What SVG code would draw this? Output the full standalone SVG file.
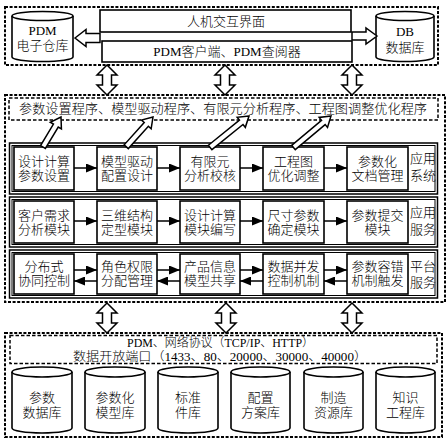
<svg xmlns="http://www.w3.org/2000/svg" width="448" height="443" viewBox="0 0 448 443">
<style>
text{font-family:"Liberation Serif","Noto Sans CJK SC",serif;font-size:13px;font-weight:300;fill:#000;text-anchor:middle}
.sm{font-size:12px}
.dash{fill:none;stroke:#000;stroke-width:2;stroke-dasharray:3 1.6}
.dash2{fill:none;stroke:#000;stroke-width:1.5;stroke-dasharray:3.5 2}
.box{fill:#fff;stroke:#000;stroke-width:1.6}
.frame{fill:none;stroke:#000;stroke-width:1.5}
.frame2{fill:none;stroke:#000;stroke-width:1}
.hol{fill:#fff;stroke:#000;stroke-width:1.5;stroke-linejoin:miter}
.cyl{fill:#fff;stroke:#000;stroke-width:1.6}
.ln{stroke:#000;stroke-width:1.5;fill:none;marker-end:url(#ah)}
</style>
<defs>
<marker id="ah" markerUnits="userSpaceOnUse" markerWidth="11" markerHeight="9" refX="11" refY="4.5" orient="auto">
<path d="M0,0 L11,4.5 L0,9 Z" fill="#000"/>
</marker>
<path id="dbl" d="M0,0 L10,10 L4.5,10 L4.5,20 L10,20 L0,30 L-10,20 L-4.5,20 L-4.5,10 L-10,10 Z"/>
</defs>
<rect width="448" height="443" fill="#fff"/>

<!-- top layer -->
<g id="top-layer">
<rect class="dash" x="5" y="7" width="433" height="58"/>
</g>
<g id="pdm-repo">
<path class="cyl" d="M12,16 A30.5,4.5 0 0,1 73,16 L73,57 A30.5,4.5 0 0,1 12,57 Z"/>
<path class="cyl" fill="none" d="M12,16 A30.5,4.5 0 0,0 73,16"/>
<text x="42.5" y="35">PDM</text>
<text x="42.5" y="50">电子仓库</text>
</g>
<g id="hci">
<rect class="box" x="100" y="10" width="251" height="22"/>
<text x="226" y="26">人机交互界面</text>
</g>
<g id="pdm-client">
<rect class="box" x="102" y="41" width="250" height="21"/>
<text x="227" y="56">PDM客户端、PDM查阅器</text>
</g>
<g id="db">
<path class="cyl" d="M376,16 A29,4.5 0 0,1 434,16 L434,57 A29,4.5 0 0,1 376,57 Z"/>
<path class="cyl" fill="none" d="M376,16 A29,4.5 0 0,0 434,16"/>
<text x="405" y="36">DB</text>
<text x="405" y="52">数据库</text>
</g>

<!-- middle layer -->
<g id="middle-layer">
<rect class="dash" x="5" y="95" width="440" height="207"/>
</g>
<g id="programs">
<rect class="dash2" x="9" y="98" width="429" height="22"/>
<text x="223" y="113" textLength="408" lengthAdjust="spacingAndGlyphs">参数设置程序、模型驱动程序、有限元分析程序、工程图调整优化程序</text>
</g>

<g id="row-app-system">
<rect class="frame" x="9.5" y="143" width="428" height="51"/>
<rect class="frame2" x="12" y="145.5" width="423" height="46"/>
<text x="423" y="163">应用</text>
<text x="423" y="180">系统</text>
</g>
<g id="n11"><rect class="box" x="14" y="147" width="60" height="43"/><text x="44" y="166">设计计算</text><text x="44" y="180">参数设置</text></g>
<g id="n12"><rect class="box" x="97" y="147" width="60" height="43"/><text x="127" y="166">模型驱动</text><text x="127" y="180">配置设计</text></g>
<g id="n13"><rect class="box" x="180" y="147" width="60" height="43"/><text x="210" y="166">有限元</text><text x="210" y="180">分析校核</text></g>
<g id="n14"><rect class="box" x="263" y="147" width="61" height="43"/><text x="293.5" y="166">工程图</text><text x="293.5" y="180">优化调整</text></g>
<g id="n15"><rect class="box" x="347" y="147" width="61" height="43"/><text x="377.5" y="166">参数化</text><text x="377.5" y="180">文档管理</text></g>

<g id="row-app-service">
<rect class="frame" x="9.5" y="197" width="428" height="50"/>
<rect class="frame2" x="12" y="199.5" width="423" height="45"/>
<text x="423" y="217">应用</text>
<text x="423" y="234">服务</text>
</g>
<g id="n21"><rect class="box" x="14" y="201" width="60" height="42"/><text x="44" y="220">客户需求</text><text x="44" y="234">分析模块</text></g>
<g id="n22"><rect class="box" x="97" y="201" width="60" height="42"/><text x="127" y="220">三维结构</text><text x="127" y="234">定型模块</text></g>
<g id="n23"><rect class="box" x="180" y="201" width="60" height="42"/><text x="210" y="220">设计计算</text><text x="210" y="234">模块编写</text></g>
<g id="n24"><rect class="box" x="263" y="201" width="61" height="42"/><text x="293.5" y="220">尺寸参数</text><text x="293.5" y="234">确定模块</text></g>
<g id="n25"><rect class="box" x="347" y="201" width="61" height="42"/><text x="377.5" y="220">参数提交</text><text x="377.5" y="234">模块</text></g>

<g id="row-platform-service">
<rect class="frame" x="9.5" y="250" width="428" height="48"/>
<rect class="frame2" x="12" y="252.5" width="423" height="43"/>
<text x="423" y="271">平台</text>
<text x="423" y="287">服务</text>
</g>
<g id="n31"><rect class="box" x="14" y="254" width="60" height="40"/><text x="44" y="271">分布式</text><text x="44" y="285">协同控制</text></g>
<g id="n32"><rect class="box" x="97" y="254" width="60" height="40"/><text x="127" y="271">角色权限</text><text x="127" y="285">分配管理</text></g>
<g id="n33"><rect class="box" x="180" y="254" width="60" height="40"/><text x="210" y="271">产品信息</text><text x="210" y="285">模型共享</text></g>
<g id="n34"><rect class="box" x="263" y="254" width="61" height="40"/><text x="293.5" y="271">数据并发</text><text x="293.5" y="285">控制机制</text></g>
<g id="n35"><rect class="box" x="347" y="254" width="61" height="40"/><text x="377.5" y="271">参数容错</text><text x="377.5" y="285">机制触发</text></g>

<!-- bottom layer -->
<g id="bottom-layer">
<rect class="dash" x="5" y="333" width="437" height="104"/>
</g>
<g id="protocols">
<rect class="dash2" x="10" y="335.5" width="427" height="28"/>
<text class="sm" x="220.5" y="347" textLength="187" lengthAdjust="spacingAndGlyphs">PDM、网络协议（TCP/IP、HTTP）</text>
<text class="sm" x="220" y="360.5" textLength="294" lengthAdjust="spacingAndGlyphs">数据开放端口（1433、80、20000、30000、40000）</text>
</g>
<g id="db1"><path class="cyl" d="M12,372 A30,5 0 0,1 72,372 L72,428 A30,5 0 0,1 12,428 Z"/><path class="cyl" fill="none" d="M12,372 A30,5 0 0,0 72,372"/><text x="42" y="402">参数</text><text x="42" y="417">数据库</text></g>
<g id="db2"><path class="cyl" d="M85,372 A30,5 0 0,1 145,372 L145,428 A30,5 0 0,1 85,428 Z"/><path class="cyl" fill="none" d="M85,372 A30,5 0 0,0 145,372"/><text x="115" y="402">参数化</text><text x="115" y="417">模型库</text></g>
<g id="db3"><path class="cyl" d="M158,372 A30,5 0 0,1 218,372 L218,428 A30,5 0 0,1 158,428 Z"/><path class="cyl" fill="none" d="M158,372 A30,5 0 0,0 218,372"/><text x="188" y="402">标准</text><text x="188" y="417">件库</text></g>
<g id="db4"><path class="cyl" d="M231,372 A29.5,5 0 0,1 290,372 L290,428 A29.5,5 0 0,1 231,428 Z"/><path class="cyl" fill="none" d="M231,372 A29.5,5 0 0,0 290,372"/><text x="260.5" y="402">配置</text><text x="260.5" y="417">方案库</text></g>
<g id="db5"><path class="cyl" d="M304,372 A29.5,5 0 0,1 363,372 L363,428 A29.5,5 0 0,1 304,428 Z"/><path class="cyl" fill="none" d="M304,372 A29.5,5 0 0,0 363,372"/><text x="333.5" y="402">制造</text><text x="333.5" y="417">资源库</text></g>
<g id="db6"><path class="cyl" d="M376,372 A29.5,5 0 0,1 435,372 L435,428 A29.5,5 0 0,1 376,428 Z"/><path class="cyl" fill="none" d="M376,372 A29.5,5 0 0,0 435,372"/><text x="405.5" y="402">知识</text><text x="405.5" y="417">工程库</text></g>

<!-- connectors -->
<g id="connectors">
<path class="hol" d="M75,38 L86,29.5 L86,33.5 L100,33.5 L100,42.5 L86,42.5 L86,46.5 Z"/>
<path class="hol" d="M377,36 L366,28 L366,32 L352,32 L352,40 L366,40 L366,44 Z"/>
<use href="#dbl" class="hol" transform="translate(107,65)"/>
<use href="#dbl" class="hol" transform="translate(225,65)"/>
<use href="#dbl" class="hol" transform="translate(352,65)"/>
<use href="#dbl" class="hol" transform="translate(107,303)"/>
<use href="#dbl" class="hol" transform="translate(226,303)"/>
<use href="#dbl" class="hol" transform="translate(352,303)"/>
<path class="hol" transform="translate(61,117) rotate(-59)" d="M0,0 L-10,-6.5 L-10,-2.8 L-35,-2.8 L-35,2.8 L-10,2.8 L-10,6.5 Z"/>
<path class="hol" transform="translate(153,117) rotate(-48)" d="M0,0 L-10,-6.5 L-10,-2.8 L-40,-2.8 L-40,2.8 L-10,2.8 L-10,6.5 Z"/>
<path class="hol" transform="translate(249,116) rotate(-39)" d="M0,0 L-10,-6.5 L-10,-2.8 L-50,-2.8 L-50,2.8 L-10,2.8 L-10,6.5 Z"/>
<path class="hol" transform="translate(331,116) rotate(-40)" d="M0,0 L-10,-6.5 L-10,-2.8 L-49,-2.8 L-49,2.8 L-10,2.8 L-10,6.5 Z"/>
<line class="ln" x1="74" y1="168" x2="97" y2="168"/>
<line class="ln" x1="157" y1="168" x2="180" y2="168"/>
<line class="ln" x1="240" y1="168" x2="263" y2="168"/>
<line class="ln" x1="324" y1="168" x2="347" y2="168"/>
<line class="ln" x1="74" y1="221" x2="97" y2="221"/>
<line class="ln" x1="157" y1="221" x2="180" y2="221"/>
<line class="ln" x1="240" y1="221" x2="263" y2="221"/>
<line class="ln" x1="324" y1="221" x2="347" y2="221"/>
<line class="ln" x1="74" y1="270" x2="97" y2="270"/>
<line class="ln" x1="97" y1="281" x2="74" y2="281"/>
<line class="ln" x1="157" y1="270" x2="180" y2="270"/>
<line class="ln" x1="180" y1="281" x2="157" y2="281"/>
<line class="ln" x1="240" y1="270" x2="263" y2="270"/>
<line class="ln" x1="263" y1="281" x2="240" y2="281"/>
<line class="ln" x1="324" y1="270" x2="347" y2="270"/>
<line class="ln" x1="347" y1="281" x2="324" y2="281"/>
</g>
</svg>
